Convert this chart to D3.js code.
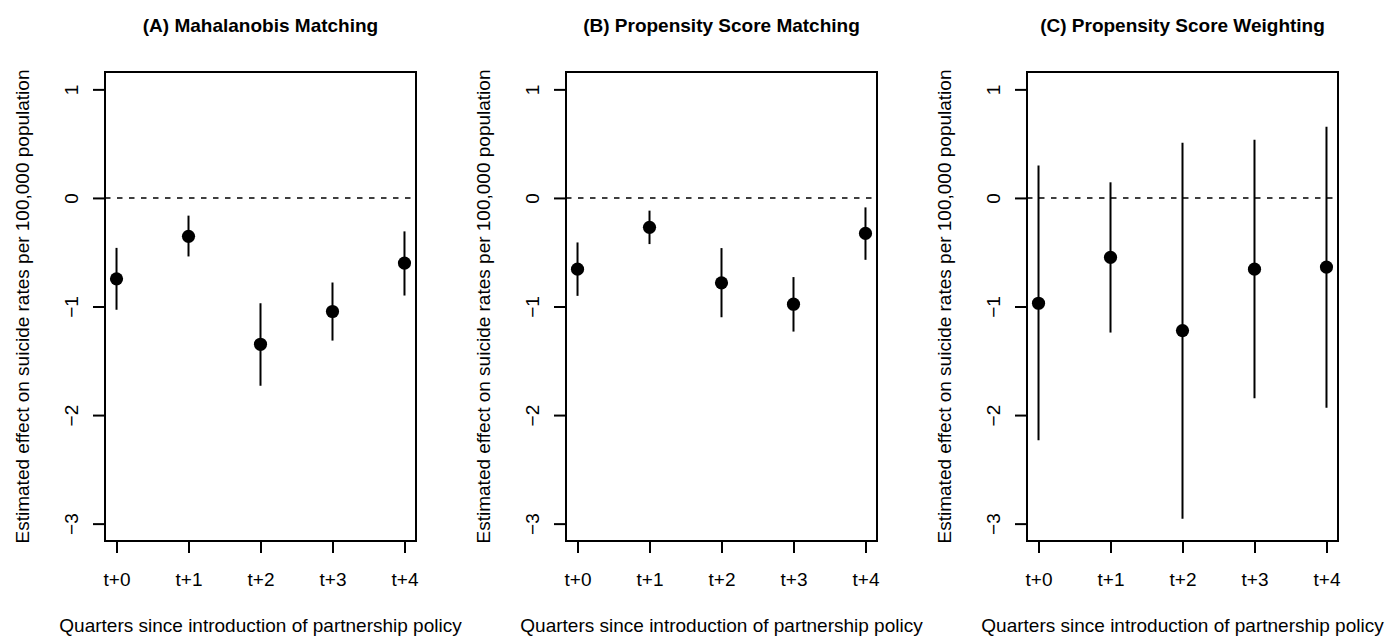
<!DOCTYPE html>
<html>
<head>
<meta charset="utf-8">
<script src="https://cdn.jsdelivr.net/npm/d3@7"></script>
<style>
  body { margin: 0; background: #fff; }
  text { font-family: "Liberation Sans", Arial, sans-serif; fill: #000; }
</style>
</head>
<body>
<div id="chart"></div>
<script>
// data
var quarters = ["t+0", "t+1", "t+2", "t+3", "t+4"];
var titles = ["(A) Mahalanobis Matching", "(B) Propensity Score Matching", "(C) Propensity Score Weighting"];

var mahaEst   = [-0.745, -0.354, -1.348, -1.046, -0.600];
var mahaLow   = [-1.030, -0.539, -1.730, -1.314, -0.899];
var mahaHigh  = [-0.460, -0.163, -0.970, -0.779, -0.308];

var psmEst    = [-0.656, -0.271, -0.782, -0.979, -0.327];
var psmLow    = [-0.902, -0.425, -1.099, -1.231, -0.570];
var psmHigh   = [-0.410, -0.117, -0.462, -0.729, -0.087];

var pswEst    = [-0.970, -0.548, -1.222, -0.656, -0.637];
var pswLow    = [-2.231, -1.240, -2.954, -1.846, -1.933];
var pswHigh   = [ 0.298,  0.144,  0.508,  0.535,  0.655];

var yTicks = [-3, -2, -1, 0, 1];
var xLabel = "Quarters since introduction of partnership policy";
var yLabel = "Estimated effect on suicide rates per 100,000 population";

var panels = [
  { est: mahaEst, low: mahaLow, high: mahaHigh },
  { est: psmEst,  low: psmLow,  high: psmHigh },
  { est: pswEst,  low: pswLow,  high: pswHigh }
];

var width = 1387, height = 637;
var lefts = [105, 566, 1027];
var pw = 311, plotTop = 72, plotBottom = 541;

var svg = d3.select("#chart").append("svg")
    .attr("width", width)
    .attr("height", height);

// same scales for every panel (R: xlim 1..5, ylim -3..1, 4% padding)
var y = d3.scaleLinear().domain([-3.16, 1.16]).range([plotBottom, plotTop]);

panels.forEach(function (p, k) {
  var x = d3.scaleLinear().domain([0.84, 5.16]).range([lefts[k], lefts[k] + pw]);
  var g = svg.append("g");
  var idx = d3.range(quarters.length);

  // dashed zero line
  g.append("line")
    .attr("x1", lefts[k]).attr("x2", lefts[k] + pw)
    .attr("y1", y(0)).attr("y2", y(0))
    .attr("stroke", "#000").attr("stroke-width", 1.6)
    .attr("stroke-dasharray", "5.5,6.5");

  // error bars
  g.selectAll(".bar")
    .data(idx)
    .enter().append("line")
    .attr("class", "bar")
    .attr("x1", function (i) { return x(i + 1); })
    .attr("x2", function (i) { return x(i + 1); })
    .attr("y1", function (i) { return y(p.low[i]); })
    .attr("y2", function (i) { return y(p.high[i]); })
    .attr("stroke", "#000").attr("stroke-width", 2);

  // point estimates
  g.selectAll(".pt")
    .data(idx)
    .enter().append("circle")
    .attr("class", "pt")
    .attr("cx", function (i) { return x(i + 1); })
    .attr("cy", function (i) { return y(p.est[i]); })
    .attr("r", 6.6)
    .attr("fill", "#000");

  // y axis
  var ya = g.append("g")
    .attr("transform", "translate(" + lefts[k] + ",0)")
    .call(d3.axisLeft(y).tickValues(yTicks).tickFormat(d3.format("d")).tickSize(12));
  ya.select(".domain").remove();
  ya.selectAll("line").attr("stroke-width", 2);
  ya.selectAll("text")
    .attr("x", null).attr("dy", null)
    .attr("transform", "translate(-26.7,0) rotate(-90)")
    .attr("text-anchor", "middle")
    .style("font-size", "19px")
    .style("font-family", "'Liberation Sans', Arial, sans-serif");

  // x axis
  var xa = g.append("g")
    .attr("transform", "translate(0," + plotBottom + ")")
    .call(d3.axisBottom(x).tickValues([1, 2, 3, 4, 5])
      .tickFormat(function (d) { return quarters[d - 1]; })
      .tickSize(12));
  xa.select(".domain").remove();
  xa.selectAll("line").attr("stroke-width", 2);
  xa.selectAll("text")
    .attr("y", 44.5).attr("dy", null)
    .style("font-size", "19px")
    .style("font-family", "'Liberation Sans', Arial, sans-serif");

  // box
  g.append("rect")
    .attr("x", lefts[k]).attr("y", plotTop)
    .attr("width", pw).attr("height", plotBottom - plotTop)
    .attr("fill", "none").attr("stroke", "#000").attr("stroke-width", 2);

  // title
  g.append("text")
    .attr("x", lefts[k] + pw / 2).attr("y", 31.5)
    .attr("text-anchor", "middle")
    .style("font-size", "19px").style("font-weight", "bold")
    .text(titles[k]);

  // axis titles
  g.append("text")
    .attr("x", lefts[k] + pw / 2).attr("y", 631.5)
    .attr("text-anchor", "middle")
    .style("font-size", "19px")
    .text(xLabel);

  g.append("text")
    .attr("transform", "translate(" + (lefts[k] - 75.7) + "," + ((plotTop + plotBottom) / 2) + ") rotate(-90)")
    .attr("text-anchor", "middle")
    .style("font-size", "19px")
    .text(yLabel);
});
</script>
</body>
</html>
